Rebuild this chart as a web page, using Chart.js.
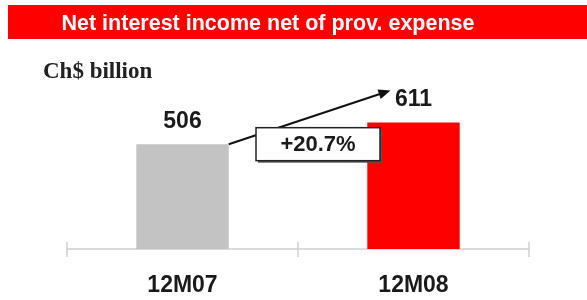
<!DOCTYPE html>
<html>
<head>
<meta charset="utf-8">
<script src="https://cdn.jsdelivr.net/npm/chart.js@4"></script>
<style>
  body { margin: 0; background: #fff; }
  #wrap { position: relative; width: 587px; height: 300px; overflow: hidden; }
  #chart { position: absolute; left: 0; top: 0; }
  .banner {
    position: absolute; left: 8px; top: 5px; width: 579px; height: 34px;
    background: #ff0000;
  }
  .banner span {
    position: absolute; left: 0; width: 520px; top: 0; text-align: center;
    color: #fff; font: bold 21.5px "Liberation Sans", Arial, sans-serif;
    line-height: 37px;
  }
  .unit {
    position: absolute; left: 43px; top: 58px;
    font: bold 23px "Liberation Serif", "Times New Roman", serif; color: #222;
  }
</style>
</head>
<body>
<div id="wrap">
  <canvas id="chart" width="587" height="300"></canvas>
  <div class="banner"><span>Net interest income net of prov. expense</span></div>
  <div class="unit">Ch$ billion</div>
</div>
<script>
// data
const categories = ['12M07', '12M08'];
const values = [506, 611];
const barColors = ['#c3c3c3', '#ff0000'];
const growthLabel = '+20.7%';

const FONT = '"Liberation Sans", Arial, sans-serif';

// axis line with ticks crossing it at category boundaries
const axisPlugin = {
    id: 'axisLine',
    beforeDatasetsDraw(chart) {
        const { ctx, chartArea, scales } = chart;
        const x = scales.x;
        const y = chartArea.bottom;
        const bounds = [x.left];
        for (let i = 0; i < categories.length - 1; i++) {
            bounds.push((x.getPixelForValue(i) + x.getPixelForValue(i + 1)) / 2);
        }
        bounds.push(x.right);
        ctx.save();
        ctx.strokeStyle = '#cfcfcf';
        ctx.lineWidth = 1.5;
        ctx.beginPath();
        ctx.moveTo(x.left, y);
        ctx.lineTo(x.right, y);
        bounds.forEach(bx => {
            ctx.moveTo(bx, y - 7);
            ctx.lineTo(bx, y + 8);
        });
        ctx.stroke();
        ctx.restore();
    }
};

// value labels, growth arrow and box
const labelPlugin = {
    id: 'labels',
    afterDatasetsDraw(chart) {
        const { ctx, scales } = chart;
        const bars = chart.getDatasetMeta(0).data;
        ctx.save();
        ctx.fillStyle = '#1a1a1a';
        ctx.font = 'bold 23px ' + FONT;
        ctx.textAlign = 'center';
        ctx.textBaseline = 'alphabetic';
        bars.forEach((bar, i) => {
            ctx.fillText(String(values[i]), bar.x, bar.y - 16);
        });

        // arrow from top of first bar to the second label
        const b0 = bars[0], b1 = bars[1];
        const sx = b0.x + b0.width / 2, sy = b0.y;
        const ex = b1.x - 23, ey = b1.y - 32;
        const ang = Math.atan2(ey - sy, ex - sx);
        ctx.strokeStyle = '#111';
        ctx.lineWidth = 2;
        ctx.beginPath();
        ctx.moveTo(sx, sy);
        ctx.lineTo(ex - 8 * Math.cos(ang), ey - 8 * Math.sin(ang));
        ctx.stroke();
        ctx.fillStyle = '#111';
        ctx.beginPath();
        ctx.moveTo(ex, ey);
        ctx.lineTo(ex - 12 * Math.cos(ang) + 5 * Math.sin(ang), ey - 12 * Math.sin(ang) - 5 * Math.cos(ang));
        ctx.lineTo(ex - 12 * Math.cos(ang) - 5 * Math.sin(ang), ey - 12 * Math.sin(ang) + 5 * Math.cos(ang));
        ctx.closePath();
        ctx.fill();

        // growth box
        const mid = (scales.x.getPixelForValue(0) + scales.x.getPixelForValue(1)) / 2;
        const cx = mid + 20, cy = scales.y.getPixelForValue(values[0]);
        const w = 124, h = 33;
        ctx.fillStyle = '#555';
        ctx.fillRect(cx - w / 2 + 2, cy - h / 2 + 2, w, h);
        ctx.fillStyle = '#fff';
        ctx.fillRect(cx - w / 2, cy - h / 2, w, h);
        ctx.strokeStyle = '#222';
        ctx.lineWidth = 1.5;
        ctx.strokeRect(cx - w / 2, cy - h / 2, w, h);
        ctx.fillStyle = '#1a1a1a';
        ctx.font = 'bold 22px ' + FONT;
        ctx.textBaseline = 'middle';
        ctx.fillText(growthLabel, cx, cy + 1);
        ctx.restore();
    }
};

new Chart(document.getElementById('chart'), {
    type: 'bar',
    data: {
        labels: categories,
        datasets: [{
            data: values,
            backgroundColor: barColors,
            borderWidth: 0,
            categoryPercentage: 0.4,
            barPercentage: 1
        }]
    },
    options: {
        responsive: false,
        animation: false,
        layout: { padding: { left: 67, right: 58, top: 104, bottom: 4 } },
        plugins: { legend: { display: false }, tooltip: { enabled: false } },
        scales: {
            x: {
                grid: { display: false, drawTicks: false },
                border: { display: false },
                ticks: {
                    color: '#1a1a1a',
                    font: { family: FONT, size: 23, weight: 'bold' },
                    padding: 23
                },
                afterFit(scale) { scale.height = 47; }
            },
            y: {
                display: false,
                min: 0,
                max: 700
            }
        }
    },
    plugins: [axisPlugin, labelPlugin]
});
</script>
</body>
</html>
